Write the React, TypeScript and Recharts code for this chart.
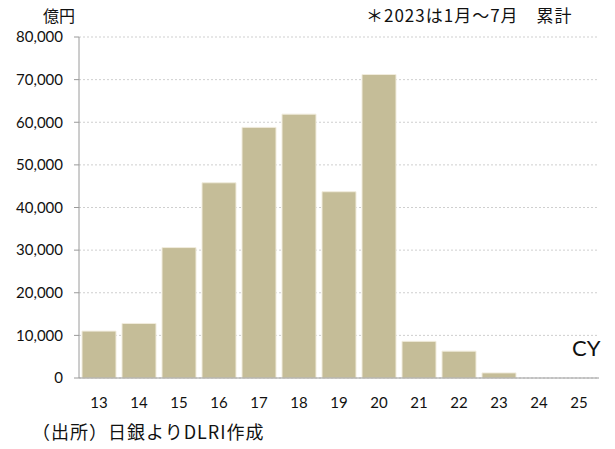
import React from 'react';
import { BarChart, Bar, XAxis, YAxis, CartesianGrid } from 'recharts';

// 暦年 (CY) ごとの累計額, 億円
const years = ['13', '14', '15', '16', '17', '18', '19', '20', '21', '22', '23', '24', '25'];
const amounts = [11000, 12800, 30600, 45800, 58800, 61900, 43700, 71200, 8600, 6300, 1200, 0, 0];
const yTicks = [0, 10000, 20000, 30000, 40000, 50000, 60000, 70000, 80000];

const data = years.map((year, i) => ({ year, amount: amounts[i] }));

const numFont = 'Lato, "Open Sans", sans-serif';
const jpFont = '"Noto Sans CJK JP", sans-serif';

const fmt = (v: number) => v.toLocaleString('en-US');

const App = () => {
  return (
    <div style={{ position: 'absolute', left: 0, top: 0, width: 615, height: 449, background: '#fff' }}>
      <BarChart
        width={615}
        height={449}
        data={data}
        margin={{ top: 37, right: 16, bottom: 41, left: 0 }}
        barCategoryGap={3}
      >
        <CartesianGrid vertical={false} stroke="#cfcfcf" strokeDasharray="2 2" />
        <XAxis
          dataKey="year"
          height={30}
          tickSize={0}
          tickMargin={19}
          axisLine={{ stroke: '#9a9a9a' }}
          tick={{ fill: '#111', fontSize: 15, fontFamily: numFont }}
          interval={0}
        />
        <YAxis
          width={79}
          domain={[0, 80000]}
          ticks={yTicks}
          tickFormatter={fmt}
          tickSize={5}
          tickMargin={11}
          axisLine={{ stroke: '#9a9a9a' }}
          tickLine={{ stroke: '#9a9a9a' }}
          tick={{ fill: '#111', fontSize: 15, fontFamily: numFont }}
          interval={0}
        />
        <Bar dataKey="amount" fill="#C5BD98" stroke="#F1ECDD" strokeWidth={1} isAnimationActive={false} />
      </BarChart>
      <div style={{ position: 'absolute', left: 43, top: 4, fontSize: 16, fontFamily: jpFont, color: '#111', lineHeight: '22px' }}>
        億円
      </div>
      <div style={{ position: 'absolute', left: 366, top: 3, fontSize: 17, letterSpacing: 1, fontFamily: jpFont, color: '#111', lineHeight: '24px', whiteSpace: 'pre' }}>
        ＊2023は1月～7月　累計
      </div>
      <div style={{ position: 'absolute', left: 572, top: 334, fontSize: 22, fontFamily: numFont, color: '#111', lineHeight: '28px' }}>
        CY
      </div>
      <div style={{ position: 'absolute', left: 32, top: 418, fontSize: 18, letterSpacing: 1, fontFamily: jpFont, color: '#111', lineHeight: '26px', whiteSpace: 'pre' }}>
        （出所）日銀よりDLRI作成
      </div>
    </div>
  );
};

export default App;
